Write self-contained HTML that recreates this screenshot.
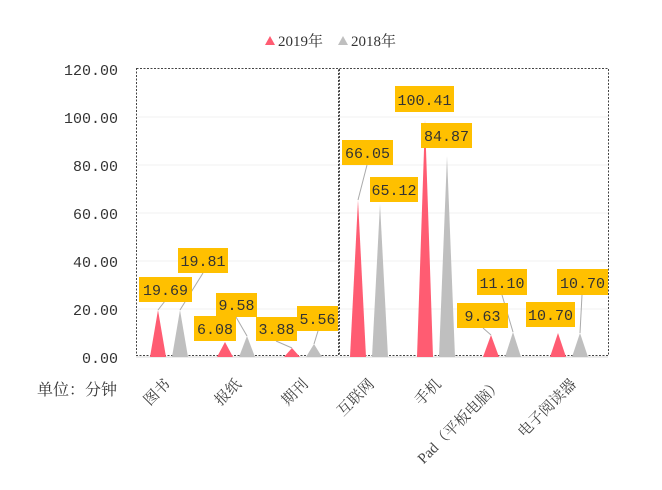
<!DOCTYPE html>
<html><head><meta charset="utf-8"><style>
body{margin:0;background:#fff}
svg text{font-family:"Liberation Serif","Noto Serif CJK SC",serif}
svg text.m, svg .m text{font-family:"Liberation Mono","Noto Serif CJK SC",monospace}
</style></head><body>
<svg width="662" height="485" xmlns="http://www.w3.org/2000/svg">
<!-- legend -->
<polygon points="265,45 270,36 275,45" fill="#ff5c72"/>
<text x="278" y="46" font-size="15" fill="#333">2019年</text>
<polygon points="338,45 343,36 348,45" fill="#bfbfbf"/>
<text x="351" y="46" font-size="15" fill="#333">2018年</text>
<!-- grid -->
<g stroke="#f0f0f0" stroke-width="1">
<line x1="136" x2="608" y1="117" y2="117"/><line x1="136" x2="608" y1="165" y2="165"/>
<line x1="136" x2="608" y1="213" y2="213"/><line x1="136" x2="608" y1="261" y2="261"/>
<line x1="136" x2="608" y1="309" y2="309"/>
</g>
<line x1="136" x2="608" y1="357" y2="357" stroke="#d9d9d9"/>
<!-- y labels -->
<g class="m" font-size="15" fill="#333" text-anchor="end">
<text x="118" y="75">120.00</text><text x="118" y="123">100.00</text>
<text x="118" y="171">80.00</text><text x="118" y="219">60.00</text>
<text x="118" y="267">40.00</text><text x="118" y="315">20.00</text>
<text x="118" y="363">0.00</text>
</g>
<!-- boxes -->
<rect x="136.5" y="68.5" width="202" height="287" fill="none" stroke="#444" stroke-dasharray="2,1.5"/>
<rect x="339.5" y="68.5" width="269" height="287" fill="none" stroke="#444" stroke-dasharray="2,1.5"/>
<!-- triangles -->
<g fill="#ff5c72">
<polygon points="150,357 158,310 166,357"/>
<polygon points="217,357 225,342 233,357"/>
<polygon points="284,357 292,348 300,357"/>
<polygon points="350,357 358,200 366,357"/>
<polygon points="417,357 425,120 433,357"/>
<polygon points="483,357 491,335 499,357"/>
<polygon points="550,357 558,333 566,357"/>
</g>
<g fill="#bfbfbf">
<polygon points="172,357 180,310 188,357"/>
<polygon points="239,357 247,336 255,357"/>
<polygon points="306,357 314,344 322,357"/>
<polygon points="372,357 380,204 388,357"/>
<polygon points="439,357 447,156 455,357"/>
<polygon points="505,357 513,332 521,357"/>
<polygon points="572,357 580,333 588,357"/>
</g>
<!-- leaders -->
<g stroke="#aaa" stroke-width="1" fill="none">
<line x1="158" y1="310" x2="165" y2="301"/>
<line x1="180" y1="310" x2="203" y2="273"/>
<line x1="247" y1="336" x2="236" y2="317"/>
<line x1="292" y1="348" x2="276" y2="341"/>
<line x1="314" y1="344" x2="318" y2="331"/>
<line x1="358" y1="200" x2="367" y2="165"/>
<line x1="491" y1="335" x2="483" y2="328"/>
<line x1="513" y1="332" x2="502" y2="295"/>
<line x1="580" y1="333" x2="582" y2="295"/>
</g>
<!-- labels -->
<g fill="#ffc000">
<rect x="139" y="277" width="53" height="25"/>
<rect x="178" y="248" width="50" height="25"/>
<rect x="194" y="316" width="42" height="25"/>
<rect x="216" y="293" width="41" height="24"/>
<rect x="256" y="317" width="41" height="24"/>
<rect x="297" y="306" width="41" height="25"/>
<rect x="342" y="140" width="51" height="25"/>
<rect x="370" y="177" width="48" height="25"/>
<rect x="395" y="86" width="59" height="26"/>
<rect x="421" y="123" width="51" height="25"/>
<rect x="457" y="303" width="51" height="25"/>
<rect x="477" y="269" width="50" height="26"/>
<rect x="526" y="302" width="49" height="25"/>
<rect x="557" y="269" width="51" height="26"/>
</g>
<g class="m" font-size="15" fill="#333" text-anchor="middle">
<text x="165.5" y="295">19.69</text>
<text x="203" y="266">19.81</text>
<text x="215" y="334">6.08</text>
<text x="236.5" y="310">9.58</text>
<text x="276.5" y="334">3.88</text>
<text x="317.5" y="324">5.56</text>
<text x="367.5" y="158">66.05</text>
<text x="394" y="195">65.12</text>
<text x="424.5" y="105">100.41</text>
<text x="446.5" y="141">84.87</text>
<text x="482.5" y="321">9.63</text>
<text x="502" y="288">11.10</text>
<text x="550.5" y="320">10.70</text>
<text x="582.5" y="288">10.70</text>
</g>
<!-- x labels -->
<text x="37" y="395" font-size="16" fill="#333">单位：分钟</text>
<g font-size="15" fill="#444" text-anchor="end">
<text transform="translate(171,385) rotate(-45)">图书</text>
<text transform="translate(242,385) rotate(-45)">报纸</text>
<text transform="translate(309,385) rotate(-45)">期刊</text>
<text transform="translate(375,385) rotate(-45)">互联网</text>
<text transform="translate(442,385) rotate(-45)">手机</text>
<text transform="translate(503,385) rotate(-45)">Pad（平板电脑）</text>
<text transform="translate(577,385) rotate(-45)">电子阅读器</text>
</g>
</svg>
</body></html>
